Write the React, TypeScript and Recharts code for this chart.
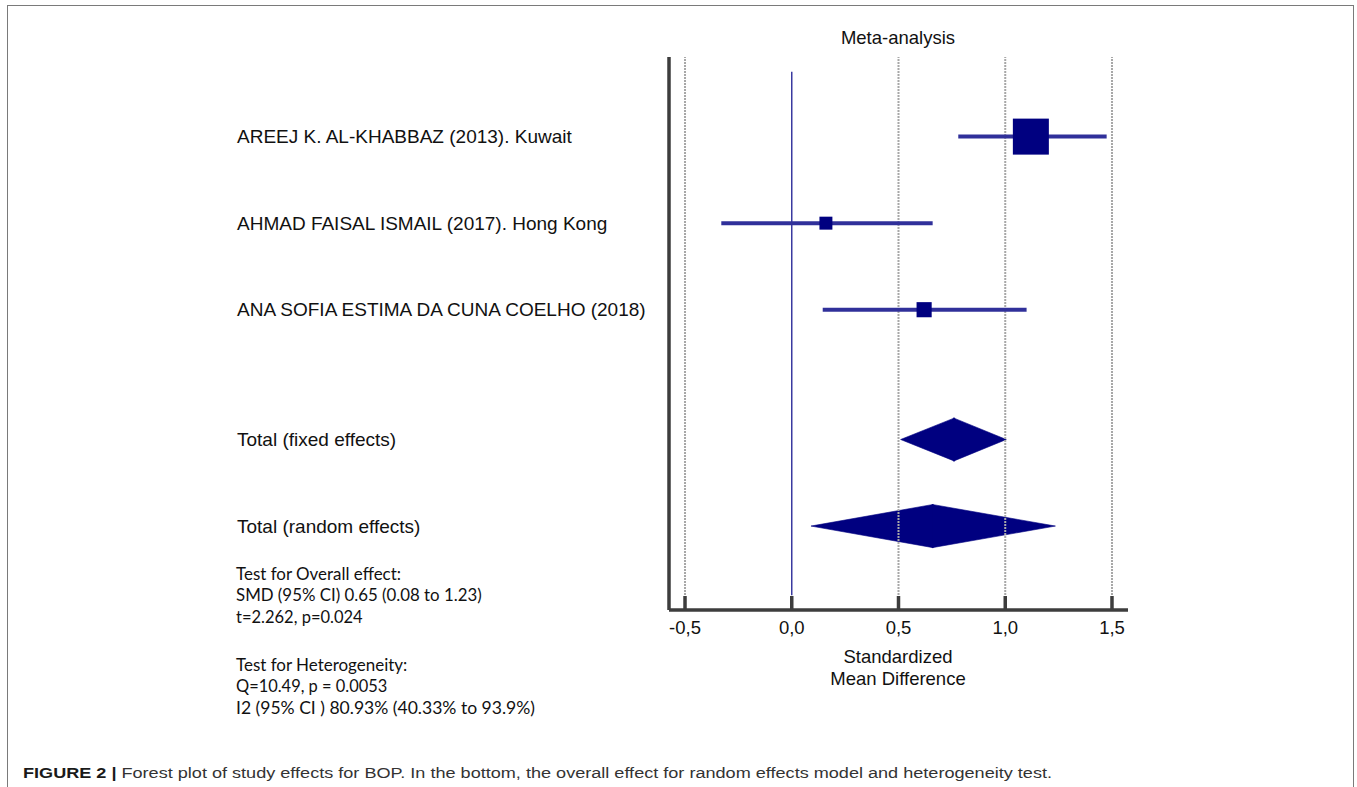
import React from 'react';
import { ComposedChart, XAxis, YAxis, Scatter, ReferenceLine, ReferenceArea } from 'recharts';

// ---- data ----
const studyLabels = [
  'AREEJ K. AL-KHABBAZ (2013). Kuwait',
  'AHMAD FAISAL ISMAIL (2017). Hong Kong',
  'ANA SOFIA ESTIMA DA CUNA COELHO (2018)',
];
const studyRows = [1, 2, 3];
const studySMD = [1.12, 0.16, 0.62];
const studyLower = [0.78, -0.33, 0.145];
const studyUpper = [1.475, 0.66, 1.1];
const studyWeight = [1.0, 0.36, 0.42];

const pooledLabels = ['Total (fixed effects)', 'Total (random effects)'];
const pooledRows = [4.5, 5.5];
const pooledSMD = [0.76, 0.66];
const pooledLower = [0.51, 0.09];
const pooledUpper = [1.005, 1.235];

const xTicks = [-0.5, 0, 0.5, 1.0, 1.5];
const gridValues = [-0.5, 0.5, 1.0, 1.5];

const overallLines = ['Test for Overall effect:', 'SMD (95% CI) 0.65 (0.08 to 1.23)', 't=2.262, p=0.024'];
const heteroLines = ['Test for Heterogeneity:', 'Q=10.49, p = 0.0053', 'I2 (95% CI ) 80.93% (40.33% to 93.9%)'];

// ---- styles / layout ----
const W = 1357;
const H = 787;
const CH = 740;
const YAXIS_W = 432;
const NAVY = '#000080';
const CI_BLUE = '#30309a';
const AXIS = '#3d3d3d';
const ARIAL = '"Liberation Sans", Arial, Helvetica, sans-serif';
const CAL = 'Lato, "Open Sans", sans-serif';

const rowLabel = new Map<number, string>();
studyRows.forEach((r, i) => rowLabel.set(r, studyLabels[i]));
pooledRows.forEach((r, i) => rowLabel.set(r, pooledLabels[i]));
const rowTicks = [...studyRows, ...pooledRows];

const studyPoints = studyRows.map((r, i) => ({ x: studySMD[i], y: r, w: studyWeight[i] }));

const SquareShape = (p: any) => {
  const { cx, cy, payload } = p;
  const s = 36 * payload.w;
  return <rect x={cx - s / 2} y={cy - s / 2} width={s} height={s} fill={NAVY} />;
};

const LeftHalf = (p: any) => {
  const x = Math.min(p.x, p.x + p.width);
  const y = Math.min(p.y, p.y + p.height);
  const w = Math.abs(p.width);
  const h = Math.abs(p.height);
  return (
    <polygon
      points={`${x},${y + h / 2} ${x + w + 0.6},${y} ${x + w + 0.6},${y + h}`}
      fill={NAVY}
      stroke={NAVY}
      strokeWidth={0.6}
      strokeLinejoin="round"
    />
  );
};
const RightHalf = (p: any) => {
  const x = Math.min(p.x, p.x + p.width);
  const y = Math.min(p.y, p.y + p.height);
  const w = Math.abs(p.width);
  const h = Math.abs(p.height);
  return (
    <polygon
      points={`${x - 0.6},${y} ${x + w},${y + h / 2} ${x - 0.6},${y + h}`}
      fill={NAVY}
      stroke={NAVY}
      strokeWidth={0.6}
      strokeLinejoin="round"
    />
  );
};

const XTick = (p: any) => {
  const { x, y, payload } = p;
  const label = Number(payload.value).toFixed(1).replace('.', ',');
  return (
    <g>
      <line x1={x} y1={y - 1} x2={x} y2={y - 14} stroke={AXIS} strokeWidth={3.5} />
      <text x={x} y={y + 23.5} textAnchor="middle" fontSize={18.5} fill="#111" fontFamily={ARIAL}>
        {label}
      </text>
    </g>
  );
};

const YTick = (p: any) => {
  const { x, y, payload } = p;
  const label = rowLabel.get(payload.value) ?? '';
  return (
    <text x={x - YAXIS_W} y={y + 6.5} textAnchor="start" fontSize={19} fill="#111" fontFamily={ARIAL}>
      {label}
    </text>
  );
};

const overallBaselines = [579.5, 601, 623];
const heteroBaselines = [671, 692, 714];
const overallWidths = [165, 245.7, 126.7];
const heteroWidths = [171.3, 151.3, 299];

export default function App() {
  return (
    <div style={{ position: 'absolute', left: 0, top: 0, width: W, height: H, background: '#fff', overflow: 'hidden' }}>
      <div
        style={{
          position: 'absolute',
          left: 7,
          top: 5,
          width: 1347,
          height: 820,
          border: '1.5px solid #7a7a7a',
          boxSizing: 'border-box',
        }}
      />
      <div style={{ position: 'absolute', left: 0, top: 0 }}>
        <ComposedChart width={W} height={CH} margin={{ top: 57, right: 229, bottom: 70, left: 237 }}>
          <XAxis
            type="number"
            dataKey="x"
            domain={[-0.575, 1.575]}
            ticks={xTicks}
            interval={0}
            allowDataOverflow
            tickSize={0}
            tickMargin={0}
            tickLine={false}
            axisLine={{ stroke: AXIS, strokeWidth: 3.5 }}
            height={60}
            tick={(p: any) => <XTick {...p} />}
          />
          <YAxis
            type="number"
            dataKey="y"
            domain={[0.08, 6.47]}
            reversed
            ticks={rowTicks}
            interval={0}
            allowDataOverflow
            width={YAXIS_W}
            tickSize={0}
            tickMargin={0}
            tickLine={false}
            axisLine={{ stroke: AXIS, strokeWidth: 3.5 }}
            tick={(p: any) => <YTick {...p} />}
          />
          {gridValues.map((v) => (
            <ReferenceLine key={'g' + v} x={v} stroke="#a8a8a8" strokeWidth={2} strokeDasharray="2 1" />
          ))}
          <ReferenceLine
            segment={[{ x: 0, y: 0.25 }, { x: 0, y: 6.3 }]}
            stroke="#3a3aa0"
            strokeWidth={1.5}
          />
          {studyRows.map((r, i) => (
            <ReferenceLine
              key={'ci' + i}
              segment={[{ x: studyLower[i], y: r }, { x: studyUpper[i], y: r }]}
              stroke={CI_BLUE}
              strokeWidth={4}
            />
          ))}
          {pooledRows.map((r, i) => (
            <ReferenceArea
              key={'dl' + i}
              x1={pooledLower[i]}
              x2={pooledSMD[i]}
              y1={r - 0.25}
              y2={r + 0.25}
              shape={(p: any) => <LeftHalf {...p} />}
            />
          ))}
          {pooledRows.map((r, i) => (
            <ReferenceArea
              key={'dr' + i}
              x1={pooledSMD[i]}
              x2={pooledUpper[i]}
              y1={r - 0.25}
              y2={r + 0.25}
              shape={(p: any) => <RightHalf {...p} />}
            />
          ))}
          <Scatter data={studyPoints} isAnimationActive={false} shape={(p: any) => <SquareShape {...p} />} />
        </ComposedChart>
      </div>
      <svg width={W} height={H} style={{ position: 'absolute', left: 0, top: 0, pointerEvents: 'none' }}>
        <text x={898} y={44} textAnchor="middle" fontSize={18.5} fill="#111" fontFamily={ARIAL}>
          Meta-analysis
        </text>
        <text x={898} y={663} textAnchor="middle" fontSize={18.5} fill="#111" fontFamily={ARIAL}>
          Standardized
        </text>
        <text x={898} y={685} textAnchor="middle" fontSize={18.5} fill="#111" fontFamily={ARIAL}>
          Mean Difference
        </text>
        {overallLines.map((t, i) => (
          <text
            key={'o' + i}
            x={236}
            y={overallBaselines[i]}
            fontSize={17}
            fill="#111"
            fontFamily={CAL}
            textLength={overallWidths[i]}
            lengthAdjust="spacingAndGlyphs"
          >
            {t}
          </text>
        ))}
        {heteroLines.map((t, i) => (
          <text
            key={'h' + i}
            x={236}
            y={heteroBaselines[i]}
            fontSize={17}
            fill="#111"
            fontFamily={CAL}
            textLength={heteroWidths[i]}
            lengthAdjust="spacingAndGlyphs"
          >
            {t}
          </text>
        ))}
        <text
          x={23}
          y={777.5}
          fontSize={15.5}
          fill="#333"
          fontFamily={'"Liberation Sans Narrow", "Arial Narrow", "Liberation Sans", sans-serif'}
          textLength={1029}
          lengthAdjust="spacingAndGlyphs"
        >
          <tspan fontWeight="bold" fill="#1a1a1a">FIGURE 2 | </tspan>
          Forest plot of study effects for BOP. In the bottom, the overall effect for random effects model and heterogeneity test.
        </text>
      </svg>
    </div>
  );
}
